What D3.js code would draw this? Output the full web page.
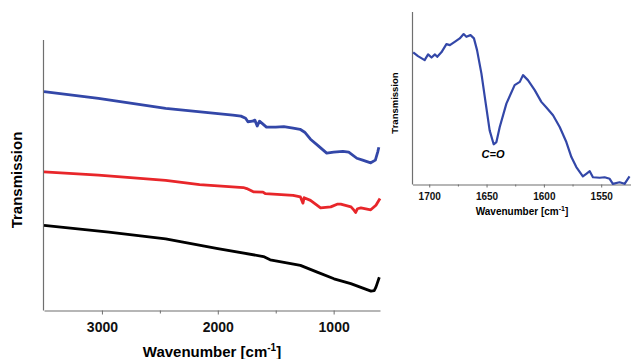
<!DOCTYPE html>
<html>
<head>
<meta charset="utf-8">
<script src="https://cdn.jsdelivr.net/npm/d3@7"></script>
<style>
  body { margin: 0; background: #fff; }
  svg { display: block; font-family: "Liberation Sans", Arial, sans-serif; }
  .axis path, .axis line { stroke: #6f6f6f; }
</style>
</head>
<body>
<svg id="chart" width="631" height="359"></svg>
<script>
// main spectra: [wavenumber, transmission (arb. units)]
const blueSeries = [
  [3500, 81.5], [3030, 79.0], [2450, 75.3], [1870, 72.8], [1800, 72.4], [1760, 71.6],
  [1740, 70.3], [1700, 70.5], [1680, 70.9], [1660, 68.7], [1640, 70.5], [1620, 69.8],
  [1580, 68.3], [1500, 68.3], [1430, 68.5], [1350, 67.9], [1290, 67.5], [1250, 66.4],
  [1200, 63.8], [1130, 61.2], [1060, 58.6], [1000, 59.0], [920, 59.3], [870, 59.0],
  [800, 56.7], [750, 56.0], [680, 55.0], [640, 56.0], [620, 59.0], [610, 60.8]
];
const redSeries = [
  [3500, 51.6], [3030, 50.4], [2450, 48.5], [2157, 46.9], [1780, 45.8], [1750, 45.4],
  [1693, 44.2], [1610, 44.1], [1590, 43.5], [1350, 42.9], [1287, 42.3], [1265, 40.0],
  [1255, 42.0], [1200, 41.0], [1113, 38.2], [1025, 38.6], [970, 39.6], [939, 39.6],
  [850, 38.6], [823, 37.3], [810, 36.5], [794, 37.9], [765, 38.2], [680, 37.5],
  [635, 39.2], [600, 41.7]
];
const blackSeries = [
  [3500, 31.7], [2940, 29.2], [2450, 26.7], [2000, 23.0], [1606, 20.1], [1548, 18.9],
  [1287, 16.8], [1142, 14.3], [997, 11.8], [852, 10.0], [678, 7.2], [650, 7.4],
  [635, 8.7], [606, 12.4]
];
const mainTicks = [3000, 2000, 1000];
const mainMinorTicks = [2500, 1500];

// inset: C=O region
const insetSeries = [
  [1714, 76.6], [1709.8, 74.4], [1704, 72.1], [1701, 75.4], [1698, 73.6], [1695, 75.4],
  [1693, 74.0], [1689.4, 76.6], [1685, 81.4], [1682, 80.8], [1677.8, 82.7], [1673.4, 84.7],
  [1670, 87.2], [1667.6, 85.6], [1664, 86.6], [1661, 84.7], [1658.3, 77.9], [1654.5, 64.4],
  [1650.7, 46.9], [1647.3, 31.4], [1643.8, 23.3], [1641.4, 24.6], [1638.5, 33.3],
  [1632.7, 46.9], [1625.5, 57.6], [1621, 59.5], [1618.2, 63.4], [1613.9, 60.5], [1608, 54.7],
  [1602.2, 47.9], [1597.8, 44.6], [1592, 40.1], [1586.2, 33.3], [1580.4, 24.6], [1576, 15.9],
  [1571.7, 10.1], [1566, 4.7], [1563, 6.2], [1560, 7.7], [1557.2, 4.2], [1551.3, 3.9],
  [1547, 4.2], [1542.6, 3.3], [1539.8, 0.4], [1534, 1.3], [1529.6, 0.4], [1525.3, 4.7]
];
const insetTicks = [1700, 1650, 1600, 1550];
const insetMinorTicks = [1675, 1625, 1575];

const svg = d3.select("#chart");

// ---- main panel ----
const x = d3.scaleLinear().domain([3500, 600]).range([44, 380]);
const y = d3.scaleLinear().domain([0, 100]).range([310.5, 42]);

const line = d3.line()
  .x(d => x(d[0]))
  .y(d => y(d[1]));

svg.append("line")
  .attr("x1", 43.5).attr("x2", 43.5)
  .attr("y1", 40).attr("y2", 310.5)
  .attr("stroke", "#6f6f6f").attr("stroke-width", 1.2);

svg.append("g")
  .attr("class", "axis")
  .attr("transform", "translate(0,310.5)")
  .call(d3.axisBottom(x).tickValues(mainTicks).tickFormat(d3.format("d")).tickSize(4).tickSizeOuter(0))
  .call(g => g.select(".domain").attr("stroke-width", 1.2))
  .call(g => g.selectAll("text")
    .attr("dy", "1.05em")
    .attr("fill", "#111")
    .style("font-size", "14px")
    .style("font-weight", "bold"));

svg.append("g")
  .attr("class", "axis")
  .attr("transform", "translate(0,310.5)")
  .call(d3.axisBottom(x).tickValues(mainMinorTicks).tickSize(3).tickFormat(""))
  .call(g => g.select(".domain").remove());

[[blueSeries, "#3347a8"], [redSeries, "#e8262a"], [blackSeries, "#000"]].forEach(([s, c]) => {
  svg.append("path")
    .datum(s)
    .attr("fill", "none")
    .attr("stroke", c)
    .attr("stroke-width", 2.8)
    .attr("stroke-linejoin", "round")
    .attr("d", line);
});

svg.append("text")
  .attr("x", 212).attr("y", 357)
  .attr("text-anchor", "middle")
  .style("font-size", "15px").style("font-weight", "bold")
  .html('Wavenumber [cm<tspan dy="-6" font-size="10px">-1</tspan><tspan dy="6">]</tspan>');

svg.append("text")
  .attr("transform", "translate(22,180) rotate(-90)")
  .attr("text-anchor", "middle")
  .style("font-size", "15px").style("font-weight", "bold")
  .text("Transmission");

// ---- inset ----
const xi = d3.scaleLinear().domain([1714.6, 1524]).range([412.5, 631]);
const yi = d3.scaleLinear().domain([0, 100]).range([184.5, 12]);

const insetLine = d3.line()
  .x(d => xi(d[0]))
  .y(d => yi(d[1]));

svg.append("line")
  .attr("x1", 412.5).attr("x2", 412.5)
  .attr("y1", 12).attr("y2", 184.5)
  .attr("stroke", "#6f6f6f").attr("stroke-width", 1.2);

svg.append("g")
  .attr("class", "axis")
  .attr("transform", "translate(0,184.5)")
  .call(d3.axisBottom(xi).tickValues(insetTicks).tickFormat(d3.format("d")).tickSize(3).tickSizeOuter(0))
  .call(g => g.select(".domain").attr("stroke-width", 1.2))
  .call(g => g.selectAll(".tick").filter(d => d === 1700).select("line").attr("stroke", "#e8262a"))
  .call(g => g.selectAll("text")
    .attr("dy", "0.95em")
    .attr("fill", "#111")
    .style("font-size", "10px")
    .style("font-weight", "bold"));

svg.append("g")
  .attr("class", "axis")
  .attr("transform", "translate(0,184.5)")
  .call(d3.axisBottom(xi).tickValues(insetMinorTicks).tickSize(2).tickFormat(""))
  .call(g => g.select(".domain").remove());

svg.append("path")
  .datum(insetSeries)
  .attr("fill", "none")
  .attr("stroke", "#3347a8")
  .attr("stroke-width", 2.2)
  .attr("stroke-linejoin", "round")
  .attr("d", insetLine);

svg.append("text")
  .attr("x", 493).attr("y", 158)
  .attr("text-anchor", "middle")
  .style("font-size", "11px").style("font-weight", "bold").style("font-style", "italic")
  .text("C=O");

svg.append("text")
  .attr("x", 522).attr("y", 215)
  .attr("text-anchor", "middle")
  .style("font-size", "10px").style("font-weight", "bold")
  .html('Wavenumber [cm<tspan dy="-4" font-size="7px">-1</tspan><tspan dy="4">]</tspan>');

svg.append("text")
  .attr("transform", "translate(398,103) rotate(-90)")
  .attr("text-anchor", "middle")
  .style("font-size", "9.5px").style("font-weight", "bold")
  .text("Transmission");
</script>
</body>
</html>
